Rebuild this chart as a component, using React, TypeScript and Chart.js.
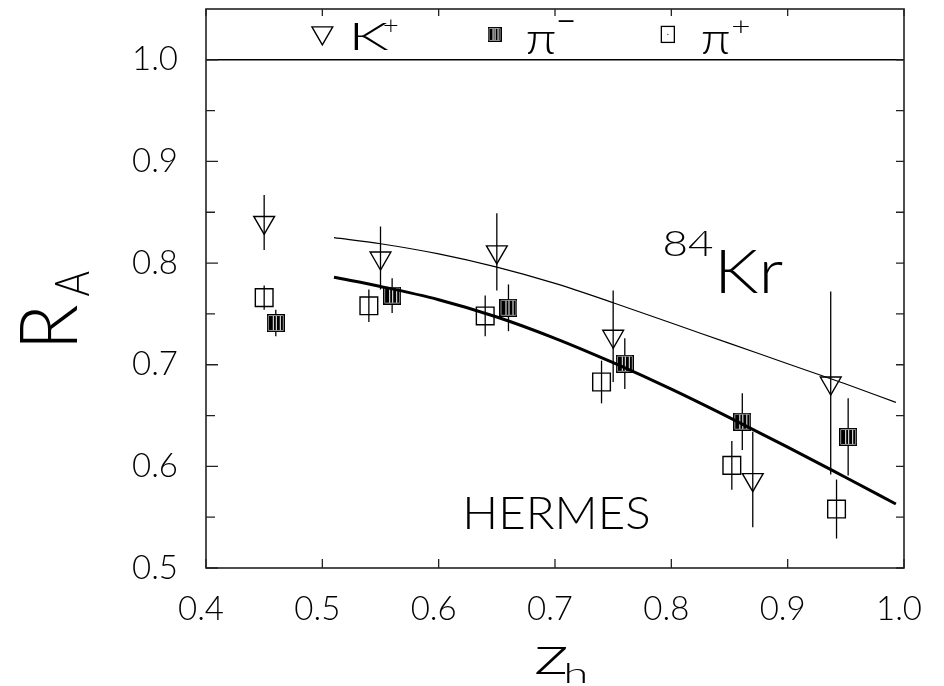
import React, { useEffect, useRef } from 'react';
import { Chart, registerables } from 'chart.js';
Chart.register(...registerables);

// ---- axis ticks ----
const xTickValues = [0.4, 0.5, 0.6, 0.7, 0.8, 0.9, 1.0];
const yTickValues = [0.5, 0.6, 0.7, 0.8, 0.9, 1.0];
const yMinorValues = [0.55, 0.65, 0.75, 0.85, 0.95];

// ---- data: K+ (open down triangles) ----
const kPlusZ = [0.45, 0.55, 0.65, 0.75, 0.87, 0.937];
const kPlusR = [0.84, 0.805, 0.811, 0.728, 0.587, 0.682];
const kPlusErr = [0.027, 0.031, 0.038, 0.045, 0.047, 0.09];

// ---- data: pi+ (open squares) ----
const piPlusZ = [0.45, 0.54, 0.64, 0.74, 0.852, 0.942];
const piPlusR = [0.766, 0.758, 0.748, 0.683, 0.601, 0.558];
const piPlusErr = [0.012, 0.016, 0.02, 0.021, 0.024, 0.029];

// ---- data: pi- (striped squares) ----
const piMinusZ = [0.46, 0.56, 0.66, 0.76, 0.861, 0.952];
const piMinusR = [0.741, 0.768, 0.756, 0.701, 0.644, 0.629];
const piMinusErr = [0.013, 0.017, 0.023, 0.025, 0.028, 0.038];

// ---- model curves ----
const curveZ = [0.51, 0.55, 0.6, 0.65, 0.7, 0.75, 0.8, 0.85, 0.9, 0.95, 0.993];
const curveThinR = [0.825, 0.819, 0.809, 0.796, 0.78, 0.761, 0.741, 0.721, 0.701, 0.681, 0.663];
const curveThickR = [0.786, 0.777, 0.764, 0.747, 0.726, 0.702, 0.676, 0.648, 0.619, 0.589, 0.563];
const refLineR = 1.0;

// ---- legend / annotations ----
const legendRowR = 1.025;
const legendItemZ = [0.5, 0.648, 0.797];
const hermesAnchor = { z: 0.6244, r: 0.5376 };
const isoSupAnchor = { z: 0.7947, r: 0.8068 };
const isoAnchor = { z: 0.8428, r: 0.7701 };

const FONT = 'Lato';

function fitBox(ctx: CanvasRenderingContext2D, text: string, left: number, top: number, w: number, h: number, weight = 300, family = FONT) {
  ctx.save();
  ctx.font = `${weight} 100px "${family}"`;
  ctx.textAlign = 'left';
  ctx.textBaseline = 'alphabetic';
  const m = ctx.measureText(text);
  const L = m.actualBoundingBoxLeft, R = m.actualBoundingBoxRight;
  const A = m.actualBoundingBoxAscent, D = m.actualBoundingBoxDescent;
  const sx = w / (L + R), sy = h / (A + D);
  ctx.translate(left + L * sx, top + A * sy);
  ctx.scale(sx, sy);
  ctx.fillStyle = '#000';
  ctx.fillText(text, 0, 0);
  ctx.restore();
}

function makeStriped(w: number, h: number): HTMLCanvasElement {
  const c = document.createElement('canvas');
  c.width = w; c.height = h;
  const g = c.getContext('2d')!;
  g.fillStyle = '#fff';
  g.fillRect(0, 0, w, h);
  g.fillStyle = '#000';
  g.fillRect(2, 2, w - 4, h - 4);
  g.fillStyle = '#fff';
  const n = 3;
  for (let i = 1; i <= n; i++) {
    const xx = Math.round(2 + (i * (w - 4)) / (n + 1));
    g.fillRect(xx, 2, 1, h - 4);
  }
  g.strokeStyle = '#000';
  g.lineWidth = 1.4;
  g.strokeRect(0.7, 0.7, w - 1.4, h - 1.4);
  return c;
}

function drawDownTriangle(ctx: CanvasRenderingContext2D, cx: number, cy: number, r: number) {
  ctx.beginPath();
  ctx.moveTo(cx, cy + r);
  ctx.lineTo(cx - r * 0.866, cy - r / 2);
  ctx.lineTo(cx + r * 0.866, cy - r / 2);
  ctx.closePath();
  ctx.stroke();
}

export default function App() {
  const ref = useRef<HTMLCanvasElement | null>(null);
  useEffect(() => {
    if (!ref.current) return;
    const stripedMarker = makeStriped(18, 18);
    const stripedLegend = makeStriped(14, 15);

    const series = [
      { z: kPlusZ, r: kPlusR, e: kPlusErr },
      { z: piPlusZ, r: piPlusR, e: piPlusErr },
      { z: piMinusZ, r: piMinusR, e: piMinusErr },
    ];

    const decor = {
      id: 'decor',
      beforeDatasetsDraw(chart: any) {
        const { ctx, chartArea: ca } = chart;
        const xs = chart.scales.x, ys = chart.scales.y;
        ctx.save();
        ctx.strokeStyle = '#000';
        ctx.lineWidth = 1.3;
        for (const s of series) {
          s.z.forEach((z, i) => {
            const px = xs.getPixelForValue(z);
            ctx.beginPath();
            ctx.moveTo(px, ys.getPixelForValue(s.r[i] - s.e[i]));
            ctx.lineTo(px, ys.getPixelForValue(s.r[i] + s.e[i]));
            ctx.stroke();
          });
        }
        const py = ys.getPixelForValue(refLineR);
        ctx.lineWidth = 1.6;
        ctx.beginPath();
        ctx.moveTo(ca.left, py);
        ctx.lineTo(ca.right, py);
        ctx.stroke();
        ctx.restore();
      },
      afterDraw(chart: any) {
        const { ctx, chartArea: ca } = chart;
        const xs = chart.scales.x, ys = chart.scales.y;
        ctx.save();
        // frame
        ctx.strokeStyle = '#222';
        ctx.lineWidth = 1.6;
        ctx.strokeRect(ca.left, ca.top, ca.right - ca.left, ca.bottom - ca.top);
        // ticks
        ctx.lineWidth = 1.3;
        ctx.beginPath();
        for (const v of xTickValues) {
          const px = xs.getPixelForValue(v);
          ctx.moveTo(px, ca.bottom); ctx.lineTo(px, ca.bottom - 9);
          ctx.moveTo(px, ca.top); ctx.lineTo(px, ca.top + 7);
        }
        for (const v of yTickValues) {
          const py = ys.getPixelForValue(v);
          ctx.moveTo(ca.left, py); ctx.lineTo(ca.left + 12, py);
          ctx.moveTo(ca.right, py); ctx.lineTo(ca.right - 8, py);
        }
        for (const v of yMinorValues) {
          const py = ys.getPixelForValue(v);
          ctx.moveTo(ca.left, py); ctx.lineTo(ca.left + 9, py);
          ctx.moveTo(ca.right, py); ctx.lineTo(ca.right - 8, py);
        }
        ctx.stroke();

        // legend
        const yc = ys.getPixelForValue(legendRowR);
        const [z1, z2, z3] = legendItemZ.map((z) => xs.getPixelForValue(z));
        ctx.strokeStyle = '#000';
        ctx.lineWidth = 1.4;
        drawDownTriangle(ctx, z1, yc - 1.5, 12);
        fitBox(ctx, 'K', z1 + 32, yc - 11, 34, 27);
        fitBox(ctx, '+', z1 + 62, yc - 16, 13, 13);
        ctx.drawImage(stripedLegend, z2 - 7, yc - 7.5);
        fitBox(ctx, 'π', z2 + 33, yc - 2, 27, 22);
        fitBox(ctx, '−', z2 + 64, yc - 14, 15, 2);
        ctx.lineWidth = 1.3;
        ctx.strokeRect(z3 - 6.5, yc - 8, 13, 16);
        ctx.fillStyle = '#000';
        ctx.fillRect(z3 - 0.5, yc - 0.5, 1, 1);
        fitBox(ctx, 'π', z3 + 35, yc - 2, 26, 22);
        fitBox(ctx, '+', z3 + 65, yc - 15, 16, 13);

        // annotations
        fitBox(ctx, 'HERMES', xs.getPixelForValue(hermesAnchor.z), ys.getPixelForValue(hermesAnchor.r) - 33, 181, 33);
        fitBox(ctx, '84', xs.getPixelForValue(isoSupAnchor.z), ys.getPixelForValue(isoSupAnchor.r) - 26, 47, 26);
        fitBox(ctx, 'Kr', xs.getPixelForValue(isoAnchor.z), ys.getPixelForValue(isoAnchor.r) - 44, 62, 44);

        // x-axis title z_h
        fitBox(ctx, 'z', 536, 647, 30, 27);
        fitBox(ctx, 'h', 567, 662, 18, 21);

        // y-axis title R_A (rotated)
        ctx.save();
        ctx.translate(0, 686);
        ctx.rotate(-Math.PI / 2);
        fitBox(ctx, 'R', 686 - 343, 19, 38, 58);
        fitBox(ctx, 'A', 686 - 296, 55, 25, 34);
        ctx.restore();

        ctx.restore();
      },
    };

    const chart = new Chart(ref.current, {
      type: 'scatter',
      data: {
        datasets: [
          {
            label: 'thin',
            data: curveZ.map((z, i) => ({ x: z, y: curveThinR[i] })),
            showLine: true,
            borderColor: '#000',
            borderWidth: 1.2,
            pointRadius: 0,
            tension: 0.4,
            cubicInterpolationMode: 'monotone',
          } as any,
          {
            label: 'thick',
            data: curveZ.map((z, i) => ({ x: z, y: curveThickR[i] })),
            showLine: true,
            borderColor: '#000',
            borderWidth: 3,
            pointRadius: 0,
            tension: 0.4,
            cubicInterpolationMode: 'monotone',
          } as any,
          {
            label: 'K+',
            data: kPlusZ.map((z, i) => ({ x: z, y: kPlusR[i] })),
            pointStyle: 'triangle',
            rotation: 180,
            pointRadius: 12,
            borderColor: '#000',
            borderWidth: 1.4,
            backgroundColor: 'rgba(0,0,0,0)',
          } as any,
          {
            label: 'pi+',
            data: piPlusZ.map((z, i) => ({ x: z, y: piPlusR[i] })),
            pointStyle: 'rect',
            pointRadius: 12.5,
            borderColor: '#000',
            borderWidth: 1.4,
            backgroundColor: 'rgba(0,0,0,0)',
          } as any,
          {
            label: 'pi-',
            data: piMinusZ.map((z, i) => ({ x: z, y: piMinusR[i] })),
            pointStyle: stripedMarker,
            pointRadius: 9,
          } as any,
        ],
      },
      options: {
        animation: false,
        responsive: true,
        maintainAspectRatio: false,
        layout: { autoPadding: false, padding: { top: 9, right: 40, left: 0, bottom: 0 } },
        plugins: { legend: { display: false }, tooltip: { enabled: false } },
        scales: {
          x: {
            type: 'linear',
            min: 0.4,
            max: 1.0,
            afterBuildTicks: (s: any) => { s.ticks = xTickValues.map((v) => ({ value: v })); },
            afterFit: (s: any) => { s.height = 118; s.paddingLeft = 0; s.paddingRight = 0; },
            grid: { display: false, drawTicks: false },
            border: { display: false },
            ticks: {
              color: '#000',
              font: { family: FONT, size: 33, weight: 300 as any },
              padding: 22,
              labelOffset: -5,
              maxRotation: 0,
              autoSkip: false,
              callback: (v: any) => Number(v).toFixed(1),
            },
          },
          y: {
            type: 'linear',
            min: 0.5,
            max: 1.05,
            afterBuildTicks: (s: any) => { s.ticks = yTickValues.map((v) => ({ value: v })); },
            afterFit: (s: any) => { s.width = 206; s.paddingTop = 0; s.paddingBottom = 0; },
            grid: { display: false, drawTicks: false },
            border: { display: false },
            ticks: {
              color: '#000',
              font: { family: FONT, size: 33, weight: 300 as any },
              padding: 28,
              autoSkip: false,
              callback: (v: any) => Number(v).toFixed(1),
            },
          },
        },
      } as any,
      plugins: [decor],
    });
    return () => chart.destroy();
  }, []);

  return (
    <div style={{ position: 'fixed', left: 0, top: 0, width: 944, height: 686, background: '#fff' }}>
      <canvas ref={ref} />
    </div>
  );
}
